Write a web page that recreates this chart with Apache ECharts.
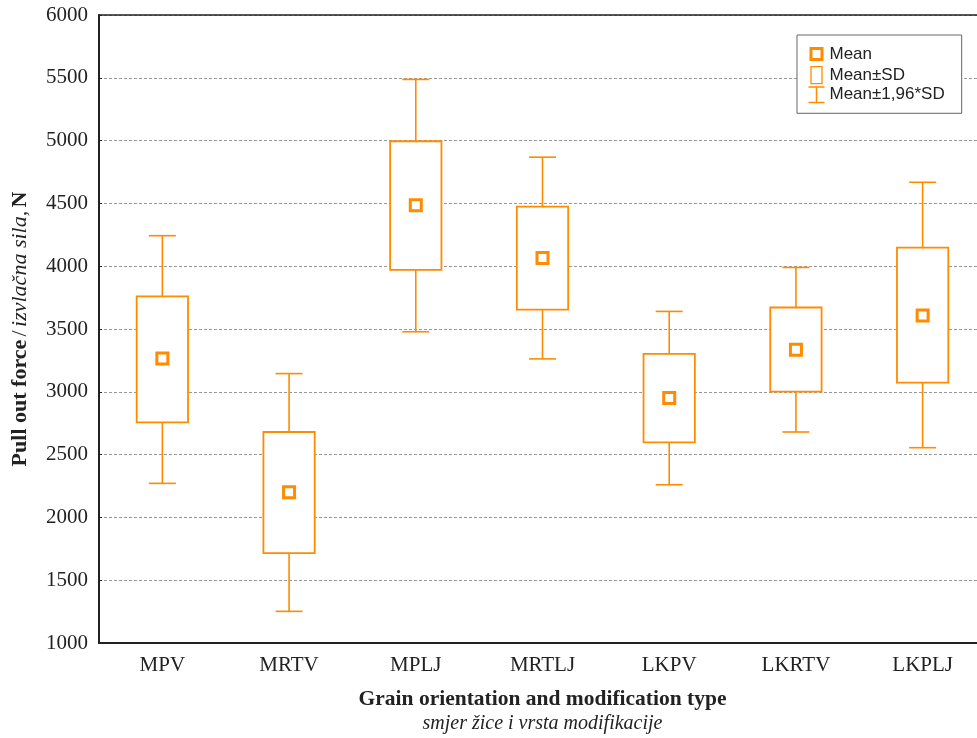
<!DOCTYPE html>
<html>
<head>
<meta charset="utf-8">
<script src="https://cdn.jsdelivr.net/npm/echarts@6/dist/echarts.min.js"></script>
<style>html,body{margin:0;padding:0;background:#fff;}#c{width:977px;height:738px;}</style>
</head>
<body>
<div id="c"></div>
<script>
var categories = ['MPV', 'MRTV', 'MPLJ', 'MRTLJ', 'LKPV', 'LKRTV', 'LKPLJ'];
var means  = [3265, 2200, 4485, 4065, 2950, 3335, 3608];
var sdLow  = [2757, 1715, 3970, 3655, 2598, 3002, 3073];
var sdHigh = [3759, 2680, 4995, 4474, 3302, 3671, 4148];
var ciLow  = [2271, 1252, 3478, 3262, 2260, 2680, 2555];
var ciHigh = [4243, 3145, 5487, 4868, 3640, 3990, 4668];
var yTicks = [1000, 1500, 2000, 2500, 3000, 3500, 4000, 4500, 5000, 5500, 6000];

var ORANGE = '#ff8b00';
var SERIF = '"Liberation Serif", "Times New Roman", serif';
var SANS = '"Liberation Sans", Arial, sans-serif';

var rows = categories.map(function (c, i) {
  return [i, ciLow[i], sdLow[i], means[i], sdHigh[i], ciHigh[i]];
});

function renderWhisker(params, api) {
  var x = api.value(0);
  var pLo = api.coord([x, api.value(1)]);
  var pSL = api.coord([x, api.value(2)]);
  var pSH = api.coord([x, api.value(4)]);
  var pHi = api.coord([x, api.value(5)]);
  var band = api.size([1, 0])[0];
  var cap = band * 0.213 / 2;
  var st = { stroke: ORANGE, lineWidth: 1.6, fill: null };
  return {
    type: 'group',
    children: [
      { type: 'line', shape: { x1: pLo[0], y1: pLo[1], x2: pSL[0], y2: pSL[1] }, style: st },
      { type: 'line', shape: { x1: pSH[0], y1: pSH[1], x2: pHi[0], y2: pHi[1] }, style: st },
      { type: 'line', shape: { x1: pLo[0] - cap, y1: pLo[1], x2: pLo[0] + cap, y2: pLo[1] }, style: st },
      { type: 'line', shape: { x1: pHi[0] - cap, y1: pHi[1], x2: pHi[0] + cap, y2: pHi[1] }, style: st }
    ]
  };
}

function renderBox(params, api) {
  var x = api.value(0);
  var pSL = api.coord([x, api.value(2)]);
  var pSH = api.coord([x, api.value(4)]);
  var band = api.size([1, 0])[0];
  var w = band * 0.405;
  return {
    type: 'rect',
    shape: { x: pSH[0] - w / 2, y: pSH[1], width: w, height: pSL[1] - pSH[1] },
    style: { stroke: ORANGE, lineWidth: 1.8, fill: '#fff' }
  };
}

var chart = echarts.init(document.getElementById('c'), null, { renderer: 'canvas' });
chart.setOption({
  backgroundColor: '#fff',
  animation: false,
  grid: { left: 99, right: -9, top: 15, bottom: 95, containLabel: false, outerBoundsMode: 'none' },
  legend: {
    orient: 'vertical',
    left: 797,
    top: 35,
    padding: [9, 17, 10, 10],
    itemWidth: 16,
    itemHeight: 17,
    itemGap: 2,
    borderColor: '#666',
    borderWidth: 1,
    backgroundColor: '#fff',
    selectedMode: false,
    textStyle: { fontFamily: SANS, fontSize: 17, color: '#222' },
    data: [
      { name: 'Mean', icon: 'path://M-2.5,-3L-2.5,-3M0,0H11V11H0ZM13.5,14L13.5,14', itemStyle: { color: '#fff', borderColor: ORANGE, borderWidth: 3 } },
      { name: 'Mean±SD', icon: 'path://M0,0H11V17H0Z', itemStyle: { color: '#fff', borderColor: ORANGE, borderWidth: 1.3 } },
      { name: 'Mean±1,96*SD', icon: 'path://M0,0H16V1.5H8.75V15.5H16V17H0V15.5H7.25V1.5H0Z', itemStyle: { color: ORANGE, borderWidth: 0 } }
    ]
  },
  xAxis: [
    {
      type: 'category',
      data: categories,
      position: 'bottom',
      boundaryGap: true,
      axisLine: { lineStyle: { color: '#222', width: 2 } },
      axisTick: { inside: true, alignWithLabel: true, length: 5, lineStyle: { color: '#222', width: 1 } },
      axisLabel: { fontFamily: SERIF, fontSize: 21, color: '#222', margin: 12 },
      splitLine: { show: false },
      name: '{b|Grain orientation and modification type}\n{i|smjer žice i vrsta modifikacije}',
      nameLocation: 'middle',
      nameGap: 44,
      nameTextStyle: {
        rich: {
          b: { fontFamily: SERIF, fontSize: 21.5, fontWeight: 'bold', color: '#222', lineHeight: 25 },
          i: { fontFamily: SERIF, fontSize: 20, fontStyle: 'italic', color: '#222', lineHeight: 24 }
        }
      }
    },
    {
      type: 'category',
      data: categories,
      position: 'top',
      boundaryGap: true,
      axisLine: { lineStyle: { color: '#222', width: 1.5 } },
      axisTick: { inside: true, alignWithLabel: true, length: 5, lineStyle: { color: '#222', width: 1 } },
      axisLabel: { show: false },
      splitLine: { show: false }
    }
  ],
  yAxis: {
    type: 'value',
    min: yTicks[0],
    max: yTicks[yTicks.length - 1],
    interval: 500,
    axisLine: { show: true, lineStyle: { color: '#222', width: 2 } },
    axisTick: { show: true, inside: true, length: 3, lineStyle: { color: '#222' } },
    axisLabel: { fontFamily: SERIF, fontSize: 21, color: '#222', margin: 11, formatter: function (v) { return String(v); } },
    splitLine: { show: true, lineStyle: { color: '#999', type: [3, 2], width: 1 } },
    name: '{b|Pull out force} {n|/} {i|izvlačna sila,} {b|N}',
    nameLocation: 'middle',
    nameRotate: 90,
    nameGap: 68,
    nameTextStyle: {
      rich: {
        b: { fontFamily: SERIF, fontSize: 22, fontWeight: 'bold', color: '#222' },
        n: { fontFamily: SERIF, fontSize: 22, color: '#222' },
        i: { fontFamily: SERIF, fontSize: 22, fontStyle: 'italic', color: '#222' }
      }
    }
  },
  series: [
    {
      name: 'Mean±1,96*SD',
      type: 'custom',
      renderItem: renderWhisker,
      data: rows,
      encode: { x: 0, y: [1, 5] },
      itemStyle: { color: ORANGE },
      z: 2
    },
    {
      name: 'Mean±SD',
      type: 'custom',
      renderItem: renderBox,
      data: rows,
      encode: { x: 0, y: [2, 4] },
      itemStyle: { color: ORANGE },
      z: 3
    },
    {
      name: 'Mean',
      type: 'scatter',
      data: categories.map(function (c, i) { return [i, means[i]]; }),
      symbol: 'rect',
      symbolSize: 11,
      itemStyle: { color: '#fff', borderColor: ORANGE, borderWidth: 3, opacity: 1 },
      z: 4
    }
  ]
});
</script>
</body>
</html>
